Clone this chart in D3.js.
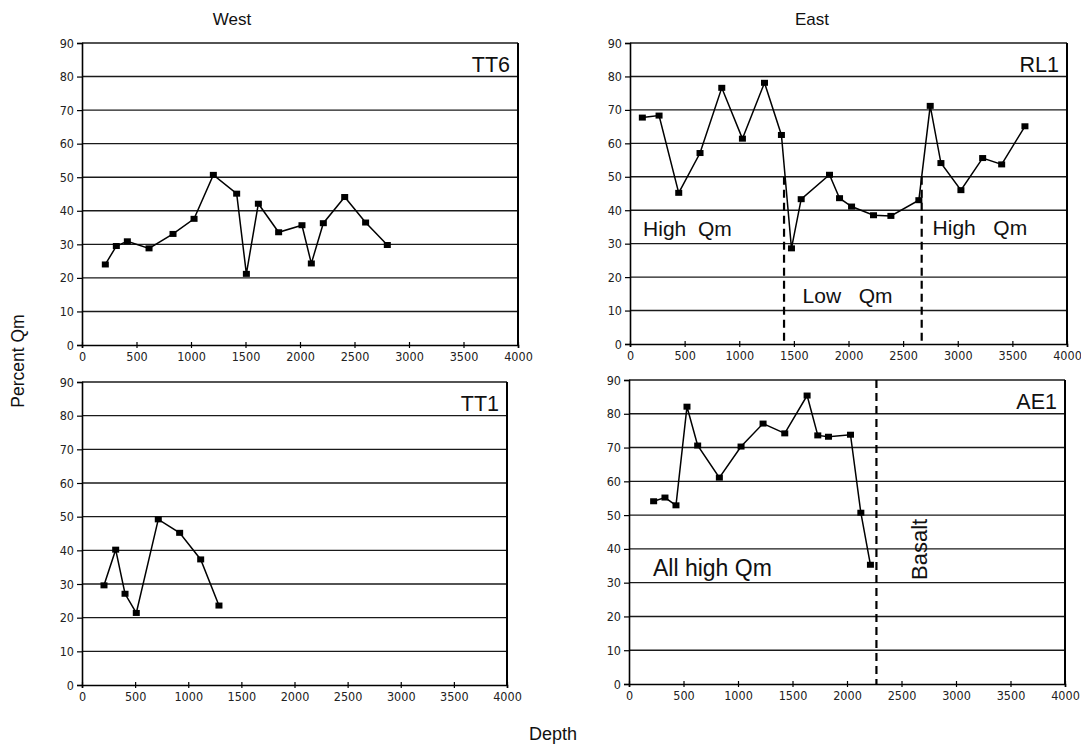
<!DOCTYPE html>
<html>
<head>
<meta charset="utf-8">
<script src="https://cdn.jsdelivr.net/npm/d3@7"></script>
<style>
  html, body { margin: 0; padding: 0; background: #fff; }
  svg { display: block; }
  .tick text { font-family: "Liberation Sans Narrow", "DejaVu Sans Condensed", sans-serif; font-size: 12.5px; fill: #222; }
</style>
</head>
<body>
<svg id="chart" width="1081" height="747"></svg>
<script>
// Depth (x) and percent Qm (y) for each well
const tt6Depth = [214, 315, 416, 615, 835, 1028, 1205, 1419, 1508, 1618, 1804, 2018, 2104, 2214, 2410, 2602, 2801];
const tt6Qm    = [24.0, 29.5, 30.9, 28.8, 33.1, 37.6, 50.7, 45.1, 21.2, 42.1, 33.6, 35.7, 24.3, 36.3, 44.1, 36.5, 29.8];

const rl1Depth = [113, 266, 446, 641, 840, 1029, 1231, 1386, 1478, 1567, 1826, 1918, 2028, 2229, 2388, 2644, 2748, 2846, 3029, 3228, 3402, 3615];
const rl1Qm    = [67.7, 68.3, 45.2, 57.1, 76.6, 61.4, 78.1, 62.5, 28.6, 43.3, 50.6, 43.6, 41.1, 38.5, 38.3, 43.0, 71.2, 54.1, 46.0, 55.6, 53.7, 65.1];

const tt1Depth = [207, 317, 405, 511, 718, 919, 1117, 1289];
const tt1Qm    = [29.6, 40.2, 27.1, 21.4, 49.2, 45.2, 37.3, 23.6];

const ae1Depth = [226, 330, 431, 532, 630, 829, 1028, 1230, 1429, 1634, 1732, 1830, 2032, 2127, 2215];
const ae1Qm    = [54.1, 55.2, 52.9, 82.1, 70.6, 61.1, 70.3, 77.1, 74.2, 85.4, 73.6, 73.2, 73.8, 50.7, 35.3];

const xTicks = [0, 500, 1000, 1500, 2000, 2500, 3000, 3500, 4000];
const yTicks = [0, 10, 20, 30, 40, 50, 60, 70, 80, 90];

// Zone boundaries (depth) and their dashed extent in percent Qm
const rl1Bounds = [1410, 2670];
const rl1BoundTop = 50;
const ae1Bounds = [2270];
const ae1BoundTop = 90;

const svg = d3.select("#chart");
const font = "'Liberation Sans', Arial, sans-serif";

function panel(box, depth, qm, name) {
  const x = d3.scaleLinear().domain([0, 4000]).range([box.left, box.right]);
  const y = d3.scaleLinear().domain([0, 90]).range([box.bottom, box.top]);
  const g = svg.append("g");

  // horizontal grid
  g.selectAll("line.grid").data(yTicks.filter(v => v > 0)).join("line")
    .attr("x1", box.left).attr("x2", box.right)
    .attr("y1", d => y(d)).attr("y2", d => y(d))
    .attr("stroke", "#1a1a1a").attr("stroke-width", 1.4);

  // right border
  g.append("line").attr("x1", box.right).attr("x2", box.right)
    .attr("y1", box.top).attr("y2", box.bottom)
    .attr("stroke", "#000").attr("stroke-width", 2);

  // axes
  const xa = g.append("g").attr("transform", `translate(0,${box.bottom})`)
    .call(d3.axisBottom(x).tickValues(xTicks).tickSize(3).tickPadding(4).tickFormat(d3.format("d")));
  xa.selectAll(".tick line").attr("y1", -3).attr("stroke", "#000").attr("stroke-width", 1.2);
  xa.select(".domain").attr("stroke", "#000").attr("stroke-width", 1.6);

  const ya = g.append("g").attr("transform", `translate(${box.left},0)`)
    .call(d3.axisLeft(y).tickValues(yTicks).tickSize(5).tickPadding(3));
  ya.selectAll(".tick line").attr("stroke", "#000").attr("stroke-width", 1.2);
  ya.select(".domain").attr("stroke", "#000").attr("stroke-width", 1.6);

  const pts = depth.map((d, i) => [d, qm[i]]);
  g.append("path").datum(pts)
    .attr("fill", "none").attr("stroke", "#000").attr("stroke-width", 1.5)
    .attr("d", d3.line().x(d => x(d[0])).y(d => y(d[1])));

  g.selectAll("rect.mk").data(pts).join("rect")
    .attr("x", d => x(d[0]) - 3.5).attr("y", d => y(d[1]) - 3)
    .attr("width", 7).attr("height", 6).attr("fill", "#000");

  g.append("text").attr("x", box.right - 8).attr("y", box.top + 29)
    .attr("text-anchor", "end").attr("font-family", font).attr("font-size", 21.5)
    .attr("fill", "#111").text(name);

  return { g, x, y };
}

function dashes(p, bounds, top) {
  p.g.selectAll("line.zone").data(bounds).join("line")
    .attr("x1", d => p.x(d)).attr("x2", d => p.x(d))
    .attr("y1", p.y(top)).attr("y2", p.y(0))
    .attr("stroke", "#000").attr("stroke-width", 2.2)
    .attr("stroke-dasharray", "8,5");
}

function note(p, depth, qm, txt, size, rotate) {
  const t = p.g.append("text").attr("font-family", font).attr("font-size", size)
    .attr("fill", "#111").attr("xml:space", "preserve").text(txt);
  if (rotate) {
    t.attr("transform", `translate(${p.x(depth)},${p.y(qm)}) rotate(-90)`);
  } else {
    t.attr("x", p.x(depth)).attr("y", p.y(qm));
  }
}

const tt6 = panel({ left: 82, right: 518, top: 43, bottom: 345 }, tt6Depth, tt6Qm, "TT6");
const rl1 = panel({ left: 630, right: 1067, top: 43, bottom: 344 }, rl1Depth, rl1Qm, "RL1");
const tt1 = panel({ left: 82, right: 507, top: 382, bottom: 685 }, tt1Depth, tt1Qm, "TT1");
const ae1 = panel({ left: 629, right: 1065, top: 380, bottom: 684 }, ae1Depth, ae1Qm, "AE1");

dashes(rl1, rl1Bounds, rl1BoundTop);
dashes(ae1, ae1Bounds, ae1BoundTop);

note(rl1, 120, 32.3, "High  Qm", 21);
note(rl1, 1580, 12.3, "Low   Qm", 21);
note(rl1, 2770, 32.6, "High   Qm", 21);
note(ae1, 220, 32.0, "All high Qm", 23);
note(ae1, 2735, 30.8, "Basalt", 22, true);

// column titles and shared axis titles
svg.append("text").attr("x", 232).attr("y", 25).attr("text-anchor", "middle")
  .attr("font-family", font).attr("font-size", 17).attr("fill", "#111").text("West");
svg.append("text").attr("x", 812).attr("y", 25).attr("text-anchor", "middle")
  .attr("font-family", font).attr("font-size", 17).attr("fill", "#111").text("East");
svg.append("text").attr("transform", "translate(24,361) rotate(-90)").attr("text-anchor", "middle")
  .attr("font-family", font).attr("font-size", 17.5).attr("fill", "#111").text("Percent Qm");
svg.append("text").attr("x", 553).attr("y", 740).attr("text-anchor", "middle")
  .attr("font-family", font).attr("font-size", 18).attr("fill", "#111").text("Depth");
</script>
</body>
</html>
